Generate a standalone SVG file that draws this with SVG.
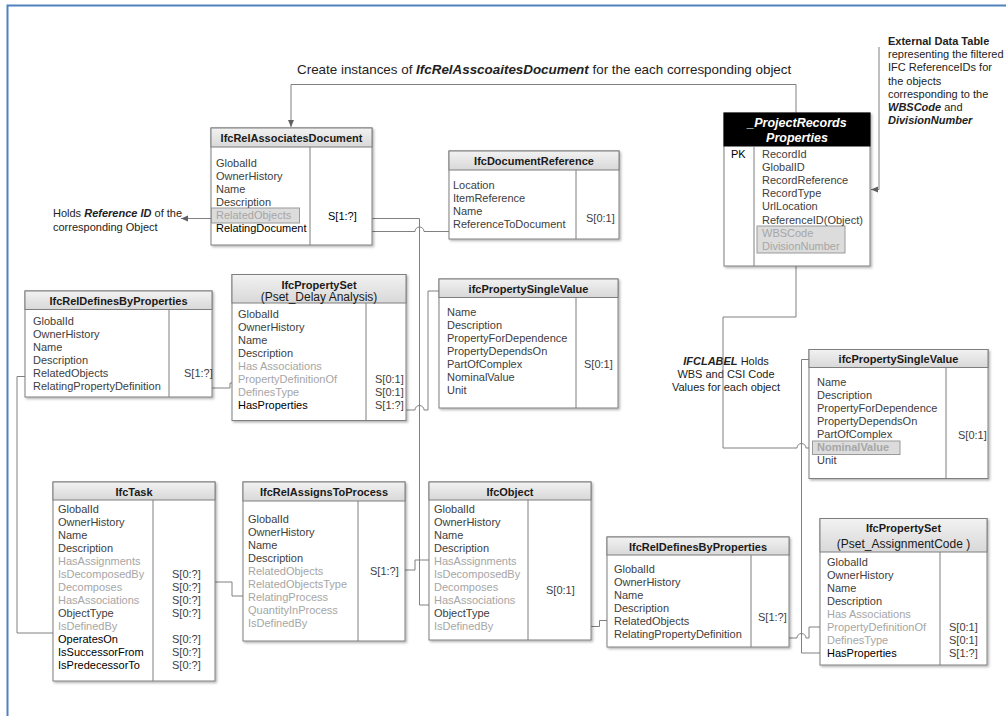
<svg xmlns="http://www.w3.org/2000/svg" width="1006" height="716" viewBox="0 0 1006 716">
  <defs>
    <linearGradient id="hg" x1="0" y1="0" x2="0" y2="1">
      <stop offset="0" stop-color="#f2f2f2"/>
      <stop offset="1" stop-color="#d8d8d8"/>
    </linearGradient>
    <filter id="sh" x="-5%" y="-5%" width="115%" height="115%">
      <feDropShadow dx="1.5" dy="1.5" stdDeviation="1" flood-color="#000" flood-opacity="0.3"/>
    </filter>
    <marker id="ah" markerWidth="8" markerHeight="8" refX="7" refY="4" orient="auto" markerUnits="userSpaceOnUse">
      <path d="M0,1 L7,4 L0,7 Z" fill="#606060"/>
    </marker>
  </defs>
  <style>
    .box{fill:#fff;stroke:#7f7f7f;stroke-width:1;filter:url(#sh)}
    .hdr{fill:url(#hg);stroke:#7f7f7f;stroke-width:1}
    .dv{stroke:#7f7f7f;stroke-width:1;fill:none}
    .hl{fill:#dcdcdc;stroke:#9a9a9a;stroke-width:1}
    text{font-family:"Liberation Sans",Arial,sans-serif;font-size:11px;fill:#404040}
    .h{font-weight:bold;fill:#1a1a1a;text-anchor:middle}
    .hs{font-size:12px;fill:#1a1a1a;text-anchor:middle}
    .f{fill:#a6a6a6}
    .k{fill:#000}
    .bi{font-weight:bold;font-style:italic}
    .note{fill:#222}
    .cn{fill:none;stroke:#808080;stroke-width:1}
  </style>

  <!-- page frame (top and left rules) -->
  <path d="M7.5,716 V5.5 H1006" fill="none" stroke="#4f81bd" stroke-width="2"/>

  <!-- free-standing annotations -->
  <g id="annotations">
    <text x="297" y="74" class="note" style="font-size:13.4px">Create instances of <tspan class="bi">IfcRelAsscoaitesDocument</tspan> for the each corresponding object</text>
    <text x="53" y="217" class="note">Holds <tspan class="bi">Reference ID</tspan> of the</text>
    <text x="53" y="231" class="note">corresponding Object</text>
    <text x="888" y="45" class="note"><tspan font-weight="bold">External Data Table</tspan></text>
    <text x="888" y="58.2" class="note">representing the filtered</text>
    <text x="888" y="71.4" class="note">IFC ReferenceIDs for</text>
    <text x="888" y="84.6" class="note">the objects</text>
    <text x="888" y="97.8" class="note">corresponding to the</text>
    <text x="888" y="111" class="note"><tspan class="bi">WBSCode</tspan> and</text>
    <text x="888" y="124.2" class="note"><tspan class="bi">DivisionNumber</tspan></text>
    <text x="726" y="365" class="note" text-anchor="middle"><tspan class="bi">IFCLABEL</tspan> Holds</text>
    <text x="726" y="378" class="note" text-anchor="middle">WBS and CSI Code</text>
    <text x="726" y="391" class="note" text-anchor="middle">Values for each object</text>
  </g>

  <!-- connectors -->
  <g id="connectors">
    <path class="cn" d="M796,113 V84.5 H291 V127" marker-end="url(#ah)"/>
    <path class="cn" d="M879,47 V189.5 H871" marker-end="url(#ah)"/>
    <path class="cn" d="M211,218.5 H181" marker-end="url(#ah)"/>
    <!-- RelatedObjects to IfcObject -->
    <path class="cn" d="M372,218.5 H419.5 V605 H429"/>
    <!-- RelatingDocument to IfcDocumentReference -->
    <path class="cn" d="M372,231.5 H415 A4.5,4.5 0 0 1 424,231.5 H449"/>
    <!-- left IfcRelDefinesByProperties to IfcPropertySet -->
    <path class="cn" d="M212,388 H230 V383 H232"/>
    <!-- HasProperties to ifcPropertySingleValue -->
    <path class="cn" d="M406,410 H415 A4.5,4.5 0 0 1 424,410 H428 V291 H439"/>
    <!-- RelatedObjects to IfcTask -->
    <path class="cn" d="M25,376.5 H17 V633 H53"/>
    <!-- IfcTask to IfcRelAssignsToProcess -->
    <path class="cn" d="M215,582 H232 V596 H243"/>
    <!-- IfcRelAssignsToProcess to IfcObject -->
    <path class="cn" d="M405,570 H415 V560 H429"/>
    <!-- IfcObject to IfcRelDefinesByProperties -->
    <path class="cn" d="M591,626.5 H599.5 V620.5 H607"/>
    <!-- IfcRelDefinesByProperties to IfcPropertySet -->
    <path class="cn" d="M789,638 H797 A4.5,4.5 0 0 1 806,638 H809 V627 H820"/>
    <!-- ifcPropertySingleValue to IfcPropertySet -->
    <path class="cn" d="M809,359.5 H801.5 V653 H820"/>
    <!-- record table to NominalValue -->
    <path class="cn" d="M796,266 V317 H723 V448 H797 A4.5,4.5 0 0 1 806,448 H812.5"/>
  </g>

  <!-- IfcRelAssociatesDocument -->
  <g id="IfcRelAssociatesDocument">
    <rect class="box" x="211" y="128" width="161" height="117"/>
    <rect class="hdr" x="211" y="128" width="161" height="19"/>
    <line class="dv" x1="310" y1="147" x2="310" y2="245"/>
    <text class="h" x="291.5" y="142">IfcRelAssociatesDocument</text>
    <rect class="hl" x="211.5" y="208" width="88" height="15"/>
    <text x="216" y="167">GlobalId</text>
    <text x="216" y="180">OwnerHistory</text>
    <text x="216" y="193">Name</text>
    <text x="216" y="206">Description</text>
    <text x="216" y="219" class="f">RelatedObjects</text>
    <text x="216" y="232" class="k">RelatingDocument</text>
    <text x="328" y="220" class="k">S[1:?]</text>
  </g>

  <!-- IfcDocumentReference -->
  <g id="IfcDocumentReference">
    <rect class="box" x="449" y="151" width="170" height="88"/>
    <rect class="hdr" x="449" y="151" width="170" height="19"/>
    <line class="dv" x1="576" y1="170" x2="576" y2="239"/>
    <text class="h" x="534" y="165">IfcDocumentReference</text>
    <text x="453" y="189">Location</text>
    <text x="453" y="202">ItemReference</text>
    <text x="453" y="215">Name</text>
    <text x="453" y="228">ReferenceToDocument</text>
    <text x="586" y="222">S[0:1]</text>
  </g>

  <!-- _ProjectRecords Properties -->
  <g id="ProjectRecordsProperties">
    <rect class="box" x="724" y="113" width="146" height="153"/>
    <rect x="724" y="113" width="146" height="33" fill="#000" stroke="#000"/>
    <line class="dv" x1="754" y1="146" x2="754" y2="266"/>
    <text x="797" y="127" text-anchor="middle" class="bi" style="font-size:12.5px;fill:#fff">_ProjectRecords</text>
    <text x="797" y="141.5" text-anchor="middle" class="bi" style="font-size:12.5px;fill:#fff">Properties</text>
    <text x="731" y="158" class="k">PK</text>
    <rect class="hl" x="757" y="226" width="88" height="27"/>
    <text x="762" y="158">RecordId</text>
    <text x="762" y="171.1">GlobalID</text>
    <text x="762" y="184.2">RecordReference</text>
    <text x="762" y="197.3">RecordType</text>
    <text x="762" y="210.4">UrlLocation</text>
    <text x="762" y="223.5">ReferenceID(Object)</text>
    <text x="762" y="236.6" class="f">WBSCode</text>
    <text x="762" y="249.7" class="f">DivisionNumber</text>
  </g>

  <!-- IfcRelDefinesByProperties (upper) -->
  <g id="IfcRelDefinesByProperties1">
    <rect class="box" x="25" y="291" width="187" height="106"/>
    <rect class="hdr" x="25" y="291" width="187" height="18.5"/>
    <line class="dv" x1="169" y1="309.5" x2="169" y2="397"/>
    <text class="h" x="118.5" y="305">IfcRelDefinesByProperties</text>
    <text x="33" y="324.7">GlobalId</text>
    <text x="33" y="337.7">OwnerHistory</text>
    <text x="33" y="350.7">Name</text>
    <text x="33" y="363.7">Description</text>
    <text x="33" y="376.7">RelatedObjects</text>
    <text x="33" y="389.7">RelatingPropertyDefinition</text>
    <text x="184" y="377">S[1:?]</text>
  </g>

  <!-- IfcPropertySet (Pset_Delay Analysis) -->
  <g id="IfcPropertySetDelay">
    <rect class="box" x="232" y="274.5" width="174" height="146"/>
    <rect class="hdr" x="232" y="274.5" width="174" height="28.5"/>
    <line class="dv" x1="366" y1="303" x2="366" y2="420.5"/>
    <text class="h" x="319" y="289">IfcPropertySet</text>
    <text class="hs" x="319" y="300.5">(Pset_Delay Analysis)</text>
    <text x="238" y="318">GlobalId</text>
    <text x="238" y="331">OwnerHistory</text>
    <text x="238" y="344">Name</text>
    <text x="238" y="357">Description</text>
    <text x="238" y="370" class="f">Has Associations</text>
    <text x="238" y="383" class="f">PropertyDefinitionOf</text>
    <text x="238" y="396" class="f">DefinesType</text>
    <text x="238" y="409" class="k">HasProperties</text>
    <text x="375" y="383">S[0:1]</text>
    <text x="375" y="396">S[0:1]</text>
    <text x="375" y="409">S[1:?]</text>
  </g>

  <!-- ifcPropertySingleValue (upper) -->
  <g id="ifcPropertySingleValue1">
    <rect class="box" x="439" y="279" width="179" height="129"/>
    <rect class="hdr" x="439" y="279" width="179" height="18.5"/>
    <line class="dv" x1="576" y1="297.5" x2="576" y2="408"/>
    <text class="h" x="528.5" y="293">ifcPropertySingleValue</text>
    <text x="447" y="315.5">Name</text>
    <text x="447" y="328.5">Description</text>
    <text x="447" y="341.5">PropertyForDependence</text>
    <text x="447" y="354.5">PropertyDependsOn</text>
    <text x="447" y="367.5">PartOfComplex</text>
    <text x="447" y="380.5">NominalValue</text>
    <text x="447" y="393.5">Unit</text>
    <text x="584" y="368">S[0:1]</text>
  </g>

  <!-- ifcPropertySingleValue (right) -->
  <g id="ifcPropertySingleValue2">
    <rect class="box" x="809" y="349.5" width="179" height="129"/>
    <rect class="hdr" x="809" y="349.5" width="179" height="18"/>
    <line class="dv" x1="946" y1="367.5" x2="946" y2="478.5"/>
    <text class="h" x="898.5" y="363">ifcPropertySingleValue</text>
    <rect class="hl" x="812.5" y="441" width="87.5" height="13.5"/>
    <text x="817" y="386.3">Name</text>
    <text x="817" y="399.3">Description</text>
    <text x="817" y="412.3">PropertyForDependence</text>
    <text x="817" y="425.3">PropertyDependsOn</text>
    <text x="817" y="438.3">PartOfComplex</text>
    <text x="817" y="451.3" class="f" font-weight="bold">NominalValue</text>
    <text x="817" y="464.3">Unit</text>
    <text x="958" y="439">S[0:1]</text>
  </g>

  <!-- IfcTask -->
  <g id="IfcTask">
    <rect class="box" x="53" y="482" width="162" height="199"/>
    <rect class="hdr" x="53" y="482" width="162" height="18"/>
    <line class="dv" x1="153" y1="500" x2="153" y2="681"/>
    <text class="h" x="134" y="495.5">IfcTask</text>
    <text x="58" y="513">GlobalId</text>
    <text x="58" y="526">OwnerHistory</text>
    <text x="58" y="539">Name</text>
    <text x="58" y="552">Description</text>
    <text x="58" y="565" class="f">HasAssignments</text>
    <text x="58" y="578" class="f">IsDecomposedBy</text>
    <text x="58" y="591" class="f">Decomposes</text>
    <text x="58" y="604" class="f">HasAssociations</text>
    <text x="58" y="617">ObjectType</text>
    <text x="58" y="630" class="f">IsDefinedBy</text>
    <text x="58" y="643" class="k">OperatesOn</text>
    <text x="58" y="656" class="k">IsSuccessorFrom</text>
    <text x="58" y="669" class="k">IsPredecessorTo</text>
    <text x="172" y="578">S[0:?]</text>
    <text x="172" y="591">S[0:?]</text>
    <text x="172" y="604">S[0:?]</text>
    <text x="172" y="617">S[0:?]</text>
    <text x="172" y="643">S[0:?]</text>
    <text x="172" y="656">S[0:?]</text>
    <text x="172" y="669">S[0:?]</text>
  </g>

  <!-- IfcRelAssignsToProcess -->
  <g id="IfcRelAssignsToProcess">
    <rect class="box" x="243" y="482" width="162" height="159"/>
    <rect class="hdr" x="243" y="482" width="162" height="19"/>
    <line class="dv" x1="358" y1="501" x2="358" y2="641"/>
    <text class="h" x="324" y="496">IfcRelAssignsToProcess</text>
    <text x="248" y="523.3">GlobalId</text>
    <text x="248" y="536.3">OwnerHistory</text>
    <text x="248" y="549.3">Name</text>
    <text x="248" y="562.3">Description</text>
    <text x="248" y="575.3" class="f">RelatedObjects</text>
    <text x="248" y="588.3" class="f">RelatedObjectsType</text>
    <text x="248" y="601.3" class="f">RelatingProcess</text>
    <text x="248" y="614.3" class="f">QuantityInProcess</text>
    <text x="248" y="627.3" class="f">IsDefinedBy</text>
    <text x="370" y="575">S[1:?]</text>
  </g>

  <!-- IfcObject -->
  <g id="IfcObject">
    <rect class="box" x="429" y="482" width="162" height="158"/>
    <rect class="hdr" x="429" y="482" width="162" height="18"/>
    <line class="dv" x1="528" y1="500" x2="528" y2="640"/>
    <text class="h" x="510" y="495.5">IfcObject</text>
    <text x="434" y="513">GlobalId</text>
    <text x="434" y="526">OwnerHistory</text>
    <text x="434" y="539">Name</text>
    <text x="434" y="552">Description</text>
    <text x="434" y="565" class="f">HasAssignments</text>
    <text x="434" y="578" class="f">IsDecomposedBy</text>
    <text x="434" y="591" class="f">Decomposes</text>
    <text x="434" y="604" class="f">HasAssociations</text>
    <text x="434" y="617">ObjectType</text>
    <text x="434" y="630" class="f">IsDefinedBy</text>
    <text x="546" y="594">S[0:1]</text>
  </g>

  <!-- IfcRelDefinesByProperties (lower) -->
  <g id="IfcRelDefinesByProperties2">
    <rect class="box" x="607" y="537" width="182" height="110"/>
    <rect class="hdr" x="607" y="537" width="182" height="18"/>
    <line class="dv" x1="751" y1="555" x2="751" y2="647"/>
    <text class="h" x="698" y="551">IfcRelDefinesByProperties</text>
    <text x="614" y="573">GlobalId</text>
    <text x="614" y="586">OwnerHistory</text>
    <text x="614" y="599">Name</text>
    <text x="614" y="612">Description</text>
    <text x="614" y="625">RelatedObjects</text>
    <text x="614" y="638">RelatingPropertyDefinition</text>
    <text x="758" y="621">S[1:?]</text>
  </g>

  <!-- IfcPropertySet (Pset_AssignmentCode) -->
  <g id="IfcPropertySetAssignment">
    <rect class="box" x="820" y="518.5" width="167" height="146.5"/>
    <rect class="hdr" x="820" y="518.5" width="167" height="33.5"/>
    <line class="dv" x1="940" y1="552" x2="940" y2="665"/>
    <text class="h" x="903.5" y="532">IfcPropertySet</text>
    <text class="hs" x="903.5" y="547.5">(Pset_AssignmentCode )</text>
    <text x="827" y="566">GlobalId</text>
    <text x="827" y="579">OwnerHistory</text>
    <text x="827" y="592">Name</text>
    <text x="827" y="605">Description</text>
    <text x="827" y="618" class="f">Has Associations</text>
    <text x="827" y="631" class="f">PropertyDefinitionOf</text>
    <text x="827" y="644" class="f">DefinesType</text>
    <text x="827" y="657" class="k">HasProperties</text>
    <text x="949" y="631">S[0:1]</text>
    <text x="949" y="644">S[0:1]</text>
    <text x="949" y="657">S[1:?]</text>
  </g>
</svg>
